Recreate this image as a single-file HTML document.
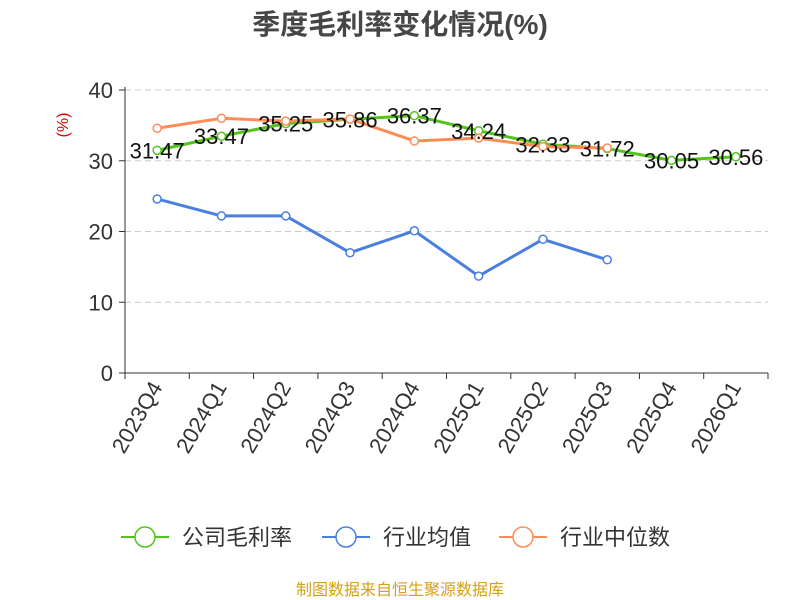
<!DOCTYPE html>
<html><head><meta charset="utf-8"><style>
body{margin:0;background:#fff;}
svg{display:block;font-family:"Liberation Sans","Noto Sans CJK SC",sans-serif;}
</style></head><body>
<svg id="chart" width="800" height="600">
<text x="400" y="34" text-anchor="middle" font-size="28" font-weight="bold" fill="#464646">季度毛利率变化情况(%)</text>
<text x="68" y="125" text-anchor="middle" font-size="16" fill="#e00000" transform="rotate(-90 68 125)">(%)</text>
<g id="grid"></g><g id="axes"></g><g id="series"></g><g id="labels"></g>
<g font-size="22" fill="#333">
<g><line x1="121" y1="537" x2="169" y2="537" stroke="#52c41a" stroke-width="2"/><circle cx="145" cy="537" r="10" fill="#fff" stroke="#52c41a" stroke-width="1.5"/><text x="182" y="545">公司毛利率</text></g>
<g><line x1="322" y1="537" x2="370" y2="537" stroke="#4a7fe0" stroke-width="2"/><circle cx="346" cy="537" r="10" fill="#fff" stroke="#4a7fe0" stroke-width="1.5"/><text x="383" y="545">行业均值</text></g>
<g><line x1="499" y1="537" x2="547" y2="537" stroke="#ff8c55" stroke-width="2"/><circle cx="523" cy="537" r="10" fill="#fff" stroke="#ff8c55" stroke-width="1.5"/><text x="560" y="545">行业中位数</text></g>
</g>
<text x="400" y="595" text-anchor="middle" font-size="16" fill="#d4a017">制图数据来自恒生聚源数据库</text>
</svg>
<script>
const categories=["2023Q4","2024Q1","2024Q2","2024Q3","2024Q4","2025Q1","2025Q2","2025Q3","2025Q4","2026Q1"];
const grossMargin=[31.47,33.47,35.25,35.86,36.37,34.24,32.33,31.72,30.05,30.56];
const industryAvg=[24.6,22.2,22.2,17.0,20.1,13.7,18.9,16.0];
const industryMedian=[34.6,36.0,35.6,35.9,32.8,33.2,32.0,31.8];
const yTicks=[0,10,20,30,40];
const NS="http://www.w3.org/2000/svg";
const x0=125,x1=768,y0=373,yTop=90,band=(x1-x0)/categories.length;
const X=i=>x0+band*(i+0.5);
const Y=v=>y0-(v/40)*(y0-yTop);
function mk(tag,attrs,parent,txt){const e=document.createElementNS(NS,tag);for(const k in attrs)e.setAttribute(k,attrs[k]);if(txt!==undefined)e.textContent=txt;document.getElementById(parent).appendChild(e);return e;}
yTicks.forEach(t=>{
 if(t>0){const g=mk('line',{x1:x0,x2:x1,y1:Y(t),y2:Y(t),stroke:'#ccc','stroke-dasharray':'6,4'},'grid');
 
 }
 const tk=mk('line',{x1:x0-6,x2:x0,y1:Y(t),y2:Y(t),stroke:'#333'},'axes');
 
 
 const lb=mk('text',{x:x0-12,y:Y(t)+8,'text-anchor':'end','font-size':'22',fill:'#333'},'axes',t);
 
 
});
const ya=mk('line',{x1:x0,x2:x0,y1:yTop-3,y2:y0,stroke:'#333'},'axes');


const xa=mk('line',{x1:x0,x2:x1,y1:y0,y2:y0,stroke:'#333'},'axes');


for(let i=0;i<=categories.length;i++){const t=mk('line',{x1:x0+band*i,x2:x0+band*i,y1:y0,y2:y0+6,stroke:'#333'},'axes');
 
 }
categories.forEach((c,i)=>{const x=X(i)+6,y=y0+14;
 const t=mk('text',{x:x,y:y,'text-anchor':'end','font-size':'22',fill:'#333',transform:`rotate(-60 ${x} ${y})`},'axes',c);
 
 });
function series(vals,color,name){
 let d='';vals.forEach((v,i)=>{d+=(i?'L':'M')+X(i)+','+Y(v);});
 const p=mk('path',{d:d,fill:'none',stroke:color,'stroke-width':3,'stroke-linejoin':'round'},'series');
 
 
 vals.forEach((v,i)=>{const c=mk('circle',{cx:X(i),cy:Y(v),r:4,fill:'#fff',stroke:color,'stroke-width':1.5},'series');
 
 });
}
series(grossMargin,'#52c41a','gross-margin');
series(industryAvg,'#4a7fe0','industry-average');
series(industryMedian,'#ff8c55','industry-median');
grossMargin.forEach((v,i)=>{const t=mk('text',{x:X(i),y:Y(v)+8,'text-anchor':'middle','font-size':'22',fill:'#111'},'labels',v.toFixed(2));
 
 });
</script>
</body></html>
